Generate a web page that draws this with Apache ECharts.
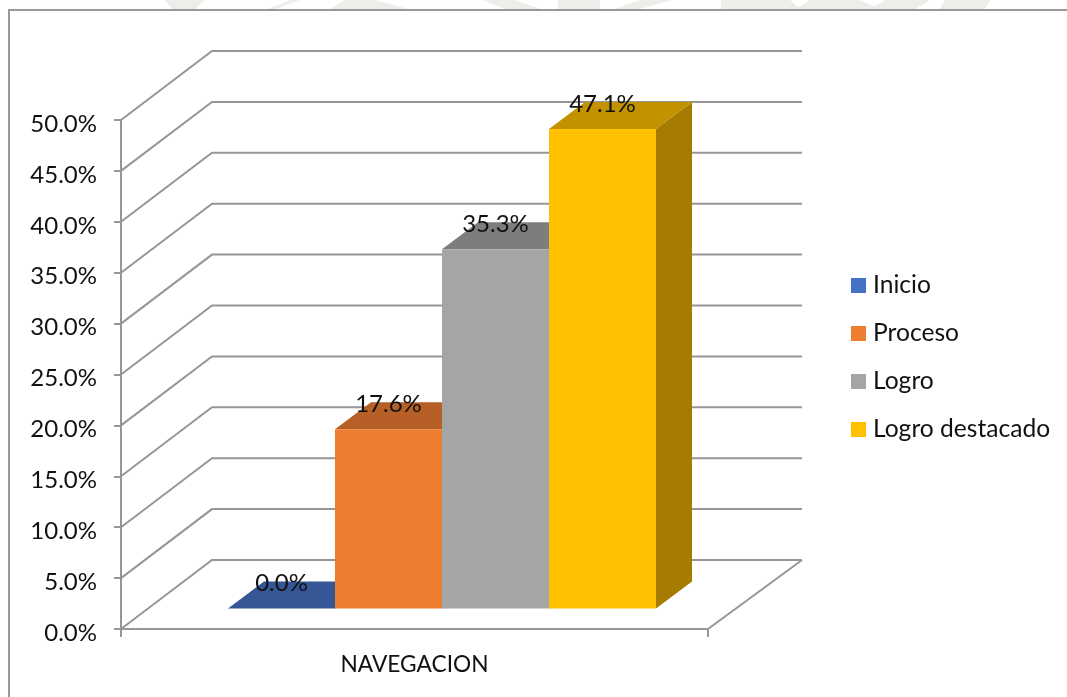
<!DOCTYPE html>
<html><head><meta charset="utf-8">
<style>html,body{margin:0;padding:0;background:#fff}#c{width:1067px;height:697px}</style>
<script src="https://cdn.jsdelivr.net/npm/echarts@6/dist/echarts.min.js"></script>
</head><body><div id="c"></div>
<script>
const categories = ['NAVEGACION'];
const seriesNames = ['Inicio', 'Proceso', 'Logro', 'Logro destacado'];
const inicio = [0.0];
const proceso = [17.6];
const logro = [35.3];
const logroDestacado = [47.1];
const yTicks = [0, 5, 10, 15, 20, 25, 30, 35, 40, 45, 50];
const faceColors = ['#4472C4', '#ED7D31', '#A5A5A5', '#FFC000'];
const topColors = ['#355796', '#B65F26', '#7D7D7D', '#C29200'];
const sideColors = ['#2B4778', '#9A5120', '#6A6A6A', '#A57C00'];

const FONT = 'Lato';
const wall = { dx: 91, dy: -69 };
const plane = { dx: 27.5, dy: -20.5 };
const depth = { dx: 36, dy: -27 };
const BAR_SHARE = 107 / 587;
const GRID = '#969696';
const poly = (points, fill) => ({ type: 'polygon', shape: { points }, style: { fill, stroke: null } });

function wallRender(params, api) {
  const [x0, y] = api.coord([0, api.value(1)]);
  const band = api.size([1, 0])[0];
  const left = x0 - band / 2;
  const pts = [[left, y], [left + wall.dx, y + wall.dy], [left + band + wall.dx + 3, y + wall.dy]];
  const children = [{ type: 'polyline', shape: { points: pts }, style: { stroke: GRID, lineWidth: 2, fill: null } }];
  if (api.value(1) === 0) {
    children.push({ type: 'line', shape: { x1: left + band, y1: y, x2: left + band + wall.dx + 3, y2: y + wall.dy },
      style: { stroke: GRID, lineWidth: 2 } });
  }
  return { type: 'group', children };
}

function barRender(i) {
  return function (params, api) {
    const v = api.value(1);
    const [cx, yTop] = api.coord([api.value(0), v]);
    const base = api.coord([api.value(0), 0])[1] + plane.dy;
    const w = api.size([1, 0])[0] * BAR_SHARE;
    const top = yTop + plane.dy;
    const l = cx + plane.dx + (i - 2) * w;
    const r = l + w;
    const d = depth;
    return { type: 'group', children: [
      poly([[r, top], [r + d.dx, top + d.dy], [r + d.dx, base + d.dy], [r, base]], sideColors[i]),
      poly([[l, top], [l + d.dx, top + d.dy], [r + d.dx, top + d.dy], [r, top]], topColors[i]),
      { type: 'rect', shape: { x: l, y: top, width: w, height: base - top }, style: { fill: faceColors[i] } },
      { type: 'text', z2: 50, style: { text: v.toFixed(1) + '%', x: (l + r) / 2, y: top - 25, align: 'center',
        verticalAlign: 'middle', fill: '#111', font: '24px ' + FONT } }
    ] };
  };
}

const values = [inicio, proceso, logro, logroDestacado];
const wm = '#ECEEEA';
const watermark = [
  [[165, 0], [205, 0], [195, 9], [172, 9]],
  [[290, 0], [300, 0], [276, 9], [268, 9]],
  [[345, 0], [375, 0], [408, 9], [330, 9]],
  [[483, 0], [515, 0], [540, 9], [505, 9]],
  [[558, 0], [600, 0], [600, 9], [558, 9]],
  [[640, 0], [672, 0], [640, 9], [615, 9]],
  [[721, 0], [790, 0], [800, 9], [721, 9]],
  [[810, 0], [860, 0], [880, 9], [795, 9]],
  [[885, 0], [930, 0], [915, 9], [870, 9]],
  [[945, 0], [990, 0], [985, 9], [940, 9]]
];
const option = {
  animation: false,
  backgroundColor: '#fff',
  grid: { left: 121, top: 120, width: 587, height: 509 },
  legend: {
    left: 851, top: 270.5, padding: 0, orient: 'vertical', itemWidth: 15, itemHeight: 15, itemGap: 18, icon: 'rect',
    data: seriesNames, selectedMode: false,
    textStyle: { fontFamily: FONT, fontSize: 24.6, color: '#111', padding: [3, 0, 0, 2], lineHeight: 27 }
  },
  xAxis: {
    type: 'category', data: categories,
    axisLine: { lineStyle: { color: GRID, width: 2 } },
    axisTick: { show: true, length: 8, lineStyle: { color: GRID, width: 2 } },
    axisLabel: { fontFamily: FONT, fontSize: 22.7, color: '#111', margin: 24 }
  },
  yAxis: {
    type: 'value', min: 0, max: 50, interval: 5,
    axisLine: { show: true, lineStyle: { color: GRID, width: 2 } },
    axisTick: { show: true, length: 7, lineStyle: { color: GRID, width: 2 } },
    splitLine: { show: false },
    axisLabel: { formatter: v => v.toFixed(1) + '%', fontFamily: FONT, fontSize: 24, color: '#111', margin: 24, verticalAlign: 'top', lineHeight: 8 }
  },
  graphic: [
    ...watermark.map(points => ({ type: 'polygon', silent: true, z: -2, shape: { points }, style: { fill: wm } })),
    { type: 'polyline', silent: true, z: -1, shape: { points: [[9, 697], [9, 10], [1067, 10]] },
      style: { stroke: '#999', lineWidth: 2, fill: null } }
  ],
  series: [
    { type: 'custom', name: 'walls', silent: true, z: 1, renderItem: wallRender,
      encode: { x: 0, y: 1 }, data: yTicks.map(t => [0, t]) },
    ...seriesNames.map((name, i) => ({
      type: 'custom', name, silent: true, z: 2 + i, renderItem: barRender(i),
      itemStyle: { color: faceColors[i] }, encode: { x: 0, y: 1 },
      data: values[i].map((v, k) => [k, v])
    }))
  ]
};
echarts.init(document.getElementById('c'), null, { renderer: 'canvas' }).setOption(option);
</script></body></html>
